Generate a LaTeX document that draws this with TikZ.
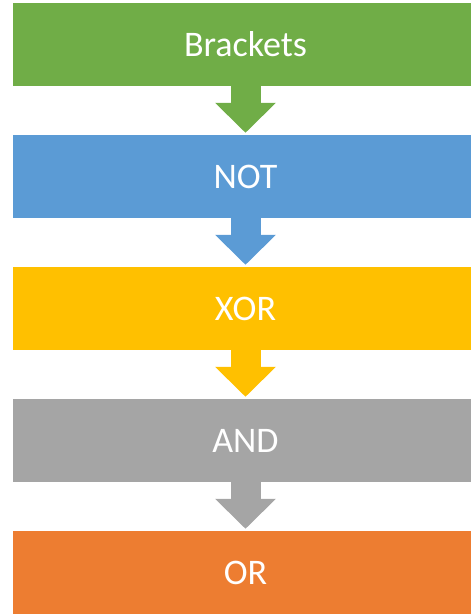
\documentclass[tikz,border=0pt]{standalone}
\usepackage{fontspec}
\setmainfont{Carlito}
\usetikzlibrary{arrows.meta}
\definecolor{cgreen}{HTML}{70AD47}
\definecolor{cblue}{HTML}{5B9BD5}
\definecolor{cyellow}{HTML}{FFC000}
\definecolor{cgray}{HTML}{A5A5A5}
\definecolor{corange}{HTML}{ED7D31}
\tikzset{
  stage/.style={rectangle, inner sep=0pt, minimum width=465pt, minimum height=83pt,
    text=white, font=\fontsize{36}{40}\selectfont},
  flow/.style={line width=30pt, shorten >=2pt,
    -{Triangle[width=59pt,length=30pt]}}
}
\begin{document}
\begin{tikzpicture}[x=1pt,y=1pt]
\useasboundingbox (0,0) rectangle (471,-614);
\clip (0,0) rectangle (471,-614);
\node[stage, fill=cgreen]  (b1) at (245.5,-44.5)  {Brackets};
\node[stage, fill=cblue]   (b2) at (245.5,-176.5) {NOT};
\node[stage, fill=cyellow] (b3) at (245.5,-308.5) {XOR};
\node[stage, fill=cgray]   (b4) at (245.5,-440.5) {AND};
\node[stage, fill=corange] (b5) at (245.5,-572.5) {OR};
\draw[flow, cgreen]  (b1.south) -- (b2.north);
\draw[flow, cblue]   (b2.south) -- (b3.north);
\draw[flow, cyellow] (b3.south) -- (b4.north);
\draw[flow, cgray]   (b4.south) -- (b5.north);
\end{tikzpicture}
\end{document}
